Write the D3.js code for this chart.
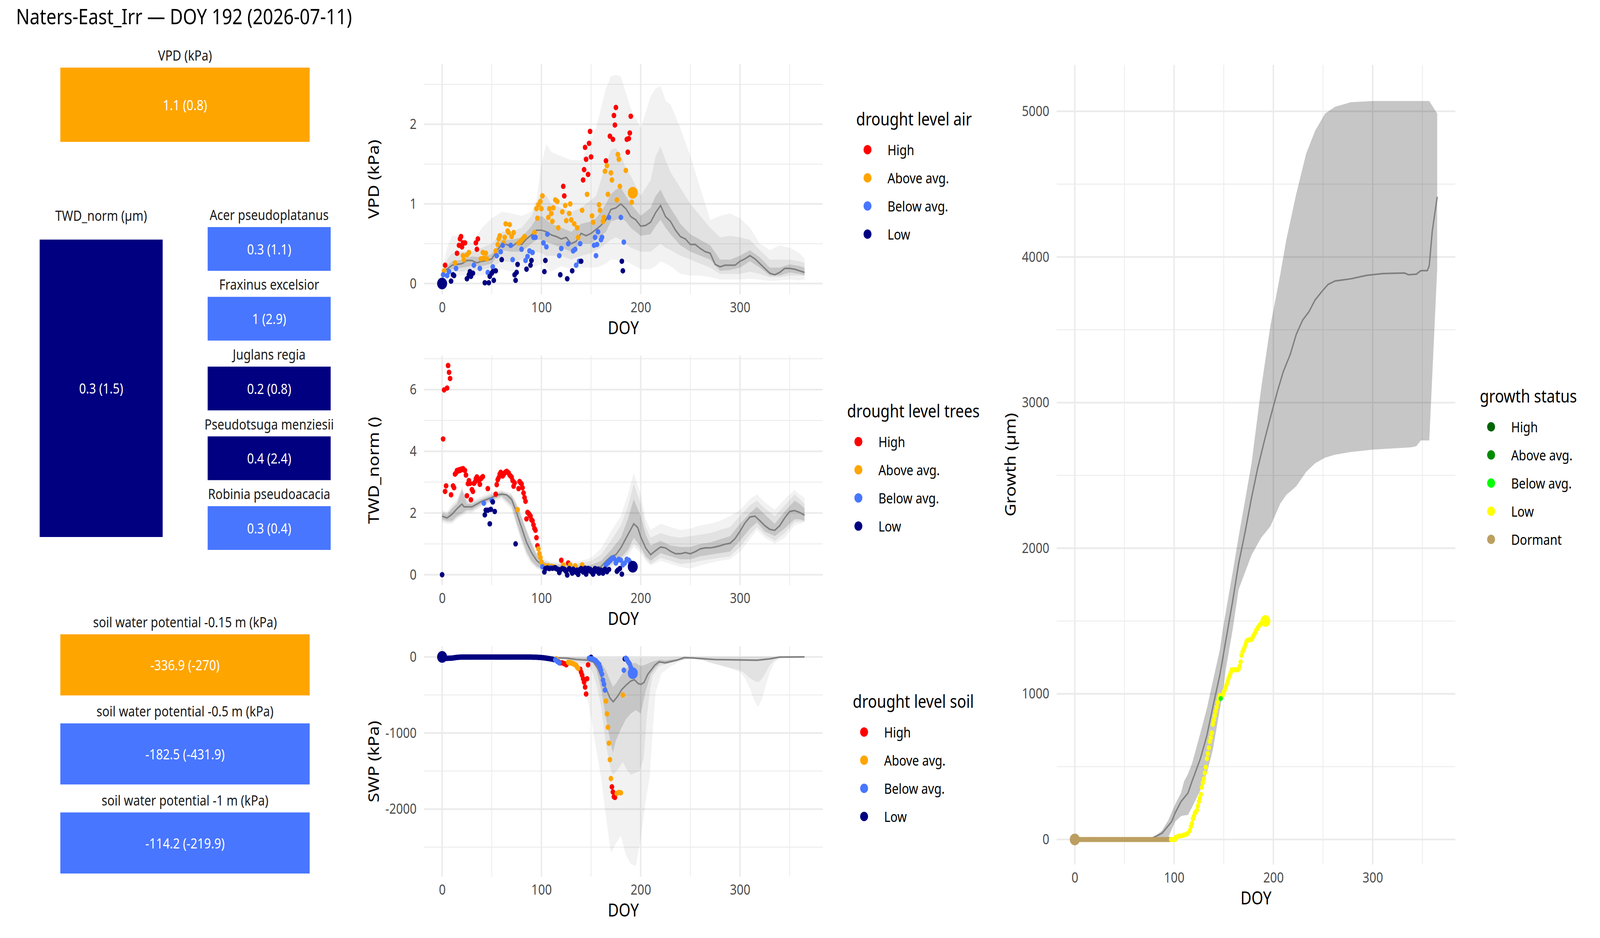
<!DOCTYPE html>
<html lang="en">
<head>
<meta charset="UTF-8">
<title>Naters-East_Irr - DOY 192</title>
<script src="https://d3js.org/d3.v7.min.js"></script>
<style>
html, body { margin: 0; padding: 0; background: white; overflow: hidden; }
#chart svg { display: block; width: 100vw; height: 100vh; }
svg text { font-family: 'Noto Sans', 'Open Sans', sans-serif; }
.tick text { font-size: 36px; fill: #4D4D4D; }
.axis-title { font-size: 45px; fill: black; }
.legend-title { font-size: 45px; fill: black; }
.legend-text { font-size: 36px; fill: black; }
.tile-label { font-size: 36px; fill: #1A1A1A; }
.tile-value { font-size: 36px; fill: white; }
.main-title { font-size: 54px; fill: black; }
</style>
</head>
<body>
<div id="chart"></div>
<script>

// --------------------------------------
// Data
// --------------------------------------

const levels = ["High", "Above avg.", "Below avg.", "Low"];
const levelColors = ["#FF0000", "#FFA500", "#4876FF", "#000080"];
const growthLevels = ["High", "Above avg.", "Below avg.", "Low", "Dormant"];
const growthColors = ["#006400", "#008B00", "#00FF00", "#FFFF00", "#BC9F60"];

const doyTicks = [0, 100, 200, 300];
const doyMinor = [50, 150, 250, 350];

// left tiles
const vpdTile = ["VPD (kPa)", "1.1 (0.8)", "Above avg."];
const twdTile = ["TWD_norm (µm)", "0.3 (1.5)", "Low"];
const species = ["Acer pseudoplatanus", "Fraxinus excelsior", "Juglans regia", "Pseudotsuga menziesii", "Robinia pseudoacacia"];
const speciesValues = ["0.3 (1.1)", "1 (2.9)", "0.2 (0.8)", "0.4 (2.4)", "0.3 (0.4)"];
const speciesLevels = ["Below avg.", "Below avg.", "Low", "Low", "Below avg."];
const soilDepths = ["soil water potential -0.15 m (kPa)", "soil water potential -0.5 m (kPa)", "soil water potential -1 m (kPa)"];
const soilValues = ["-336.9 (-270)", "-182.5 (-431.9)", "-114.2 (-219.9)"];
const soilLevels = ["Above avg.", "Below avg.", "Below avg."];

// VPD climatology [doy, value] and ribbons [doy, lo, hi]
const vpdMedian = [[0,0.14],[5,0.18],[10,0.23],[15,0.24],[20,0.25],[25,0.29],[30,0.29],[35,0.26],[40,0.28],[45,0.29],[50,0.31],[55,0.41],[60,0.49],[65,0.49],[70,0.46],[75,0.51],[80,0.49],[85,0.56],[90,0.61],[95,0.67],[100,0.67],[105,0.65],[110,0.61],[115,0.59],[120,0.56],[125,0.58],[130,0.50],[135,0.53],[140,0.63],[145,0.60],[150,0.63],[155,0.68],[160,0.73],[165,0.80],[170,0.93],[175,0.95],[180,1.00],[185,0.94],[190,0.84],[195,0.80],[200,0.72],[205,0.73],[210,0.77],[215,0.89],[220,0.98],[225,0.84],[230,0.78],[235,0.67],[240,0.59],[245,0.56],[250,0.49],[255,0.49],[260,0.44],[265,0.40],[270,0.38],[275,0.24],[280,0.21],[285,0.23],[290,0.23],[295,0.23],[300,0.28],[305,0.31],[310,0.35],[315,0.31],[320,0.25],[325,0.19],[330,0.13],[335,0.11],[340,0.14],[345,0.19],[350,0.19],[355,0.18],[360,0.16],[365,0.14]];
const vpdOuter = [[0,0.05,0.15],[5,0.05,0.45],[10,0.1,0.6],[20,0.1,0.6],[30,0.1,0.5],[40,0.1,0.7],[50,0.12,0.82],[60,0.18,0.9],[70,0.15,0.88],[80,0.2,0.85],[90,0.2,0.9],[95,0.22,1.05],[100,0.25,1.5],[105,0.2,1.75],[110,0.15,1.65],[120,0.22,1.6],[130,0.18,1.55],[140,0.2,1.55],[150,0.2,1.8],[155,0.2,1.95],[160,0.22,2.2],[165,0.25,2.45],[170,0.3,2.6],[175,0.3,2.62],[180,0.3,2.6],[185,0.28,2.4],[190,0.25,2.2],[200,0.18,1.95],[210,0.18,2.35],[215,0.22,2.45],[220,0.28,2.48],[225,0.25,2.3],[230,0.22,2.25],[240,0.12,1.95],[250,0.1,1.6],[260,0.1,1.2],[270,0.08,0.8],[280,0.05,0.85],[290,0.05,0.88],[300,0.05,0.82],[310,0.06,0.7],[320,0.05,0.5],[330,0.03,0.42],[340,0.04,0.48],[350,0.05,0.45],[360,0.04,0.38],[365,0.05,0.31]];
const vpdMid = [[0,0.08,0.12],[5,0.1,0.3],[10,0.15,0.38],[20,0.15,0.4],[30,0.17,0.4],[40,0.17,0.45],[50,0.2,0.5],[60,0.28,0.65],[70,0.27,0.65],[80,0.3,0.7],[90,0.35,0.85],[95,0.4,1.0],[100,0.38,1.15],[105,0.35,1.1],[110,0.35,1.0],[120,0.35,0.95],[130,0.3,0.9],[140,0.35,0.95],[150,0.38,1.05],[155,0.42,1.1],[160,0.45,1.3],[165,0.5,1.5],[170,0.55,1.68],[175,0.58,1.7],[180,0.55,1.62],[185,0.5,1.45],[190,0.45,1.35],[200,0.4,1.1],[210,0.4,1.3],[215,0.45,1.6],[220,0.5,1.72],[225,0.45,1.55],[230,0.42,1.4],[240,0.35,1.2],[250,0.3,1.0],[260,0.25,0.85],[270,0.2,0.7],[280,0.12,0.58],[290,0.12,0.6],[300,0.12,0.58],[310,0.15,0.55],[320,0.12,0.42],[330,0.08,0.3],[340,0.08,0.3],[350,0.1,0.3],[360,0.1,0.28],[365,0.1,0.26]];
const vpdInner = [[0,0.12,0.16],[5,0.15,0.22],[10,0.18,0.28],[20,0.2,0.3],[30,0.22,0.34],[40,0.22,0.33],[50,0.25,0.37],[60,0.42,0.55],[70,0.4,0.55],[80,0.4,0.58],[90,0.5,0.72],[95,0.55,0.82],[100,0.55,0.85],[105,0.52,0.8],[110,0.5,0.75],[120,0.45,0.7],[130,0.4,0.65],[140,0.5,0.75],[150,0.5,0.78],[155,0.55,0.82],[160,0.6,0.9],[165,0.65,1.0],[170,0.78,1.12],[175,0.8,1.18],[180,0.82,1.2],[185,0.78,1.1],[190,0.7,1.0],[200,0.6,0.85],[210,0.62,0.95],[215,0.72,1.1],[220,0.8,1.18],[225,0.7,1.05],[230,0.62,0.95],[240,0.48,0.75],[250,0.4,0.62],[260,0.35,0.55],[270,0.3,0.48],[280,0.16,0.3],[290,0.17,0.3],[300,0.2,0.35],[310,0.28,0.42],[320,0.2,0.33],[330,0.1,0.2],[340,0.1,0.2],[350,0.14,0.24],[360,0.12,0.22],[365,0.1,0.2]];

// VPD daily observations by drought level [doy, kPa]
const vpdHigh = [[3,0.23],[15,0.38],[17,0.48],[18,0.56],[19,0.59],[20,0.46],[21,0.51],[23,0.51],[34,0.51],[35,0.43],[36,0.56],[122,1.22],[123,1.10],[142,1.30],[143,1.43],[144,1.71],[145,1.56],[147,1.37],[148,1.76],[149,1.91],[150,1.59],[165,1.54],[169,1.85],[172,1.81],[173,2.11],[174,1.99],[175,2.21],[186,1.81],[187,1.65],[188,1.82],[189,1.89],[190,2.10]];
const vpdAbove = [[2,0.16],[13,0.26],[21,0.35],[22,0.30],[25,0.36],[27,0.39],[39,0.31],[41,0.39],[42,0.32],[44,0.38],[45,0.31],[54,0.41],[56,0.49],[57,0.56],[58,0.60],[62,0.51],[63,0.58],[64,0.75],[66,0.66],[67,0.64],[68,0.74],[70,0.59],[72,0.64],[77,0.51],[79,0.53],[81,0.56],[83,0.59],[93,0.64],[95,0.94],[96,0.82],[97,0.99],[99,1.03],[100,0.94],[101,1.10],[107,0.83],[108,0.94],[110,0.88],[111,0.78],[112,0.95],[114,1.05],[116,1.03],[117,0.70],[121,0.90],[124,0.98],[125,0.79],[128,0.88],[129,1.00],[130,0.80],[133,0.75],[136,0.70],[137,0.58],[141,0.92],[146,1.12],[151,0.85],[152,0.77],[158,0.99],[159,0.92],[162,0.78],[163,0.83],[164,1.41],[166,1.48],[167,1.12],[170,1.39],[171,1.30],[176,1.05],[177,1.62],[178,1.56],[179,1.22],[185,1.42],[191,1.02]];
const vpdBelow = [[1,0.11],[5,0.10],[7,0.15],[14,0.19],[32,0.23],[38,0.19],[46,0.14],[51,0.21],[55,0.35],[59,0.40],[61,0.48],[69,0.48],[71,0.30],[80,0.43],[84,0.29],[86,0.34],[88,0.41],[91,0.39],[92,0.58],[94,0.58],[102,0.51],[105,0.46],[106,0.62],[118,0.35],[120,0.44],[127,0.50],[132,0.41],[134,0.43],[135,0.23],[138,0.28],[139,0.50],[153,0.48],[154,0.58],[155,0.35],[156,0.49],[157,0.65],[160,0.55],[161,0.58],[168,0.83],[180,0.83],[183,0.52]];
const vpdLow = [[9,0.03],[11,0.11],[12,0.10],[25,0.06],[27,0.11],[28,0.15],[29,0.09],[31,0.13],[43,0.01],[47,0.01],[48,0.09],[50,0.13],[51,0.15],[52,0.04],[54,0.16],[60,0.30],[73,0.11],[74,0.04],[75,0.14],[76,0.24],[85,0.18],[89,0.23],[90,0.29],[103,0.15],[104,0.29],[119,0.11],[126,0.06],[131,0.16],[140,0.28],[181,0.28],[182,0.16]];
const vpdBig = [[0,0,"Low"],[192,1.14,"Above avg."]];

// TWD_norm climatology and observations
const twdMedian = [[0,1.9],[5,1.84],[10,1.96],[15,2.14],[20,2.29],[22,2.2],[25,2.2],[30,2.2],[35,2.29],[40,2.38],[45,2.44],[50,2.5],[55,2.58],[60,2.61],[65,2.59],[70,2.44],[75,2.02],[80,1.53],[85,1.05],[90,0.72],[95,0.47],[100,0.32],[105,0.26],[110,0.25],[120,0.23],[130,0.2],[140,0.19],[150,0.18],[160,0.26],[165,0.44],[170,0.59],[175,0.65],[180,0.87],[185,1.17],[190,1.47],[193,1.65],[197,1.53],[200,1.23],[205,0.87],[210,0.65],[215,0.78],[220,0.9],[225,0.87],[230,0.76],[235,0.68],[240,0.68],[245,0.72],[250,0.68],[255,0.75],[260,0.84],[265,0.87],[270,0.87],[275,0.9],[280,0.94],[285,0.99],[290,1.02],[295,1.17],[300,1.41],[305,1.68],[310,1.87],[315,1.9],[320,1.75],[325,1.59],[330,1.47],[335,1.44],[340,1.59],[345,1.84],[350,2.05],[355,2.08],[360,2.02],[365,1.93]];
const twdOuter = [[0,1.7,2.1],[5,1.65,2.05],[10,1.65,2.3],[15,1.8,2.45],[20,1.9,2.85],[25,2.0,2.45],[30,2.0,2.4],[40,2.2,2.55],[50,2.35,2.68],[60,2.45,2.75],[70,2.1,2.65],[75,1.55,2.35],[80,1.05,1.95],[85,0.6,1.5],[90,0.35,1.1],[95,0.2,0.75],[100,0.12,0.55],[110,0.1,0.42],[120,0.1,0.42],[130,0.08,0.4],[140,0.08,0.45],[150,0.08,0.55],[160,0.1,0.85],[170,0.2,1.4],[180,0.4,1.9],[187,0.6,2.6],[193,0.9,3.3],[200,0.7,2.6],[205,0.45,1.8],[210,0.3,1.45],[220,0.45,1.65],[230,0.35,1.55],[240,0.25,1.45],[250,0.2,1.5],[260,0.3,1.6],[270,0.38,1.65],[280,0.45,1.75],[290,0.5,1.9],[300,0.75,2.1],[310,1.15,2.45],[317,1.45,2.6],[325,1.2,2.35],[335,1.0,2.1],[345,1.2,2.45],[355,1.6,2.75],[360,1.65,2.6],[365,1.7,2.5]];
const twdMid = [[0,1.75,2.05],[5,1.7,2.0],[10,1.7,2.2],[15,1.85,2.38],[20,1.95,2.8],[25,2.05,2.38],[30,2.05,2.35],[40,2.25,2.5],[50,2.38,2.63],[60,2.5,2.72],[70,2.18,2.6],[75,1.62,2.3],[80,1.12,1.9],[85,0.68,1.45],[90,0.4,1.05],[95,0.24,0.7],[100,0.16,0.5],[110,0.14,0.38],[120,0.13,0.37],[130,0.12,0.35],[140,0.11,0.37],[150,0.1,0.45],[160,0.12,0.65],[170,0.28,1.1],[180,0.48,1.6],[187,0.7,2.2],[193,1.0,2.95],[200,0.8,2.3],[205,0.52,1.55],[210,0.35,1.2],[220,0.55,1.35],[230,0.45,1.25],[240,0.35,1.2],[250,0.38,1.25],[260,0.45,1.3],[270,0.5,1.35],[280,0.55,1.45],[290,0.6,1.55],[300,0.9,1.9],[310,1.3,2.25],[317,1.55,2.4],[325,1.3,2.15],[335,1.1,1.9],[345,1.35,2.25],[355,1.7,2.6],[360,1.72,2.45],[365,1.72,2.3]];
const twdInner = [[0,1.8,2.0],[5,1.75,1.95],[10,1.75,2.15],[15,1.9,2.3],[20,2.0,2.75],[25,2.1,2.3],[30,2.1,2.3],[40,2.3,2.45],[50,2.42,2.58],[60,2.55,2.68],[70,2.25,2.55],[75,1.7,2.25],[80,1.2,1.85],[85,0.75,1.4],[90,0.45,1.0],[95,0.28,0.65],[100,0.2,0.45],[110,0.18,0.33],[120,0.17,0.32],[130,0.15,0.3],[140,0.14,0.3],[150,0.13,0.32],[160,0.15,0.45],[170,0.35,0.8],[180,0.55,1.2],[187,0.8,1.8],[193,1.2,2.45],[200,0.9,1.9],[205,0.6,1.3],[210,0.45,0.95],[220,0.7,1.1],[230,0.6,0.95],[240,0.5,0.9],[250,0.5,0.9],[260,0.6,1.0],[270,0.65,1.05],[280,0.7,1.15],[290,0.75,1.25],[300,1.1,1.65],[310,1.5,2.0],[317,1.7,2.2],[325,1.4,1.95],[335,1.25,1.65],[345,1.5,2.05],[355,1.8,2.4],[360,1.8,2.3],[365,1.75,2.15]];

const twdHigh = [[1,4.4],[2,5.99],[5,6.05],[6,6.78],[7,6.56],[8,6.36],[3,2.7],[4,2.88],[9,2.59],[11,2.88],[12,2.82],[13,3.26],[14,3.3],[15,3.38],[16,3.36],[17,3.4],[18,3.38],[19,3.42],[20,3.41],[21,3.44],[22,3.40],[23,3.38],[24,3.23],[25,2.56],[26,2.95],[27,3.05],[28,2.96],[29,2.43],[30,2.76],[31,2.7],[32,2.96],[33,3.0],[34,3.11],[35,3.17],[36,3.1],[37,3.05],[38,2.93],[39,3.11],[40,3.15],[41,3.18],[46,2.79],[54,2.61],[55,2.92],[56,3.08],[57,3.15],[58,3.26],[59,3.32],[60,3.28],[61,3.20],[62,3.25],[63,3.30],[64,3.33],[65,3.35],[66,3.32],[67,3.30],[68,3.23],[69,3.2],[70,3.16],[71,3.05],[72,2.87],[73,2.98],[77,2.79],[78,3.02],[79,2.98],[80,2.94],[81,2.82],[82,2.65],[83,2.5],[84,2.38],[85,1.81],[86,2.02],[87,1.99],[88,1.95],[89,1.90],[90,1.78],[91,1.75],[92,1.62],[93,1.5],[94,1.44],[95,1.20],[96,0.94],[120,0.47],[127,0.38]];
const twdAbove = [[76,2.11],[97,0.84],[98,0.68],[99,0.56],[100,0.41],[102,0.3],[105,0.28],[107,0.29],[110,0.27],[112,0.26],[122,0.32],[129,0.32],[134,0.29],[141,0.32]];
const twdBelow = [[42,2.32],[50,2.41],[101,0.26],[109,0.23],[165,0.32],[167,0.38],[169,0.45],[170,0.50],[172,0.55],[173,0.53],[175,0.38],[176,0.45],[178,0.50],[180,0.47],[182,0.32],[184,0.38],[186,0.50],[188,0.47],[189,0.42]];
const twdLow = [[0,0],[43,1.94],[44,2.09],[46,2.09],[48,1.65],[49,2.12],[51,2.36],[53,2.05],[74,1.0],[103,0.09],[104,0.2],[106,0.22],[108,0.2],[111,0.21],[113,0.22],[114,0.23],[115,0.2],[116,0.18],[117,0.17],[118,0.07],[119,0.15],[121,0.20],[123,0.18],[124,0.14],[125,0.1],[126,-0.01],[128,0.20],[130,0.12],[131,0.05],[132,0.18],[133,0.14],[135,0.08],[136,0.15],[137,0.01],[138,0.12],[139,0.17],[140,0.2],[142,0.09],[143,0.15],[144,0.21],[145,0.02],[146,0.12],[147,0.2],[148,0.13],[149,0.18],[150,0.1],[151,0.08],[152,0.02],[153,0.15],[154,0.20],[155,0.12],[156,0.11],[157,0.18],[158,0.05],[159,0.12],[160,0.15],[161,0.1],[162,0.05],[163,0.12],[164,0.18],[166,0.1],[168,0.17],[176,0.11],[177,0.15],[179,0.20],[181,0.02]];
const twdBig = [[192,0.26,"Low"]];

// soil water potential climatology and observations (kPa)
const swpMedian = [[0,-5],[20,-4],[40,-3],[60,-3],[80,-3],[100,-8],[110,-12],[118,-14],[125.6,-17],[134.6,-34],[146.6,-43],[152.5,-68],[157,-154],[163,-351],[169,-539],[172.3,-590],[176.5,-522],[181,-428],[185.5,-368],[190,-317],[193.7,-300],[197.5,-351],[200.4,-360],[203.4,-334],[207,-231],[211,-163],[214,-111],[218.4,-65],[224.4,-77],[230.4,-60],[236.4,-43],[243.9,-9],[252.8,-14],[260,-22],[275,-34],[317,-43],[330,-25],[339.7,-3],[365,0]];
const swpOuter = [[0,-10,0],[50,-10,0],[100,-15,0],[110,-15,0],[120,-40,0],[125,-70,0],[130,-100,0],[135,-150,0],[140,-280,0],[145,-470,0],[150,-800,0],[155,-1200,0],[160,-1580,0],[165,-2100,0],[170,-2580,0],[175,-2450,0],[180,-2350,0],[185,-2600,0],[190,-2720,0],[195,-2750,0],[200,-2400,0],[205,-1900,0],[209,-1580,0],[212,-985,0],[215,-470,0],[221,-214,0],[230,-128,0],[239,-60,0],[245,-17,0],[250,-15,0],[260,-40,0],[270,-70,0],[280,-110,0],[290,-150,0],[300,-200,0],[305,-280,0],[310,-420,0],[315,-590,0],[318,-660,0],[322,-560,0],[326,-380,0],[330,-200,0],[335,-70,0],[340,-20,0],[350,-8,0],[365,-5,0]];
const swpMid = [[0,-6,0],[50,-6,0],[100,-10,0],[110,-10,0],[120,-25,0],[130,-50,0],[135,-70,0],[140,-85,0],[146.5,-94,-5],[151,-180,-10],[155.5,-368,-12],[160,-640,-15],[165,-1150,-15],[170,-1500,-15],[172,-1550,-15],[176,-1500,-15],[182,-1380,-15],[186,-1480,-15],[190,-1550,-15],[199,-1500,-15],[203,-1330,-15],[206,-815,-15],[209,-470,-15],[212,-250,-12],[218,-128,-10],[230,-77,-5],[242,-17,0],[250,-15,0],[260,-25,0],[270,-80,0],[280,-110,0],[290,-145,0],[300,-175,0],[305,-220,0],[310,-280,0],[315,-320,0],[318,-334,0],[322,-290,0],[326,-200,0],[330,-110,0],[335,-40,0],[340,-15,0],[350,-8,0],[365,-5,0]];
const swpInner = [[0,-4,0],[50,-4,0],[100,-6,0],[110,-8,0],[120,-15,-3],[130,-25,-8],[140,-30,-12],[150,-40,-15],[155,-150,-40],[160,-420,-70],[165,-800,-180],[170,-1150,-330],[172,-1258,-394],[175,-1100,-350],[180,-950,-250],[185,-820,-160],[190,-745,-90],[195,-700,-80],[200,-745,-120],[205,-450,-100],[210,-230,-70],[215,-140,-50],[220,-80,-35],[225,-95,-45],[230,-80,-35],[240,-45,-20],[250,-25,-8],[260,-28,-12],[270,-40,-25],[280,-45,-28],[290,-48,-30],[300,-50,-32],[310,-52,-33],[317,-55,-35],[325,-45,-28],[330,-35,-20],[335,-22,-10],[340,-8,0],[350,-5,0],[365,-4,0]];

const swpHigh = [[117,-63],[119,-78],[121,-78],[123,-89],[125,-104],[139,-162],[140,-201],[141,-240],[142,-287],[143,-332],[144,-397],[145,-488],[146,-287],[147,-104],[171,-1708],[172,-1775],[173,-1838],[174,-1846]];
const swpAbove = [[115,-26],[127,-70],[128,-78],[129,-75],[130,-78],[131,-84],[132,-90],[133,-97],[134,-104],[135,-110],[136,-136],[137,-150],[165,-580],[166,-749],[167,-924],[168,-1133],[169,-1350],[170,-1598],[176,-1794],[178,-1781],[180,-1786],[182,-501]];
const swpBelow = [[114,-37],[116,-60],[118,-78],[148,-18],[151,-26],[152,-30],[153,-37],[154,-45],[155,-52],[156,-70],[157,-85],[158,-97],[159,-136],[160,-175],[161,-227],[162,-305],[163,-358],[164,-436],[183,-175],[185,-18],[186,-31],[187,-57],[188,-75],[189,-97],[190,-136],[191,-175]];
const swpLow = [[1,-18],[2,-20],[3,-20],[4,-19],[5,-19],[6,-18],[7,-18],[8,-17],[9,-16],[10,-15],[11,-14],[12,-12],[13,-10],[14,-8],[15,-6],[16,-5],[17,-4],[18,-4],[19,-3],[20,-3],[21,-3],[22,-3],[23,-3],[24,-3],[25,-3],[26,-3],[27,-3],[28,-3],[29,-3],[30,-3],[31,-3],[32,-2],[33,-2],[34,-2],[35,-2],[36,-2],[37,-2],[38,-2],[39,-2],[40,-2],[41,-2],[42,-2],[43,-2],[44,-2],[45,-2],[46,-2],[47,-2],[48,-2],[49,-2],[50,-2],[51,-2],[52,-3],[53,-3],[54,-3],[55,-3],[56,-3],[57,-3],[58,-3],[59,-3],[60,-3],[61,-3],[62,-3],[63,-3],[64,-3],[65,-3],[66,-3],[67,-3],[68,-3],[69,-2],[70,-2],[71,-2],[72,-2],[73,-2],[74,-2],[75,-2],[76,-2],[77,-2],[78,-2],[79,-2],[80,-2],[81,-2],[82,-2],[83,-3],[84,-3],[85,-3],[86,-3],[87,-3],[88,-3],[89,-3],[90,-3],[91,-4],[92,-4],[93,-4],[94,-4],[95,-4],[96,-5],[97,-6],[98,-7],[99,-8],[100,-9],[101,-10],[102,-12],[103,-13],[104,-15],[105,-17],[106,-19],[107,-21],[108,-23],[109,-25],[110,-28],[111,-30],[112,-33],[113,-36],[149,-18],[150,-5],[184,-26]];
const swpBig = [[0,0,"Low"],[192,-214,"Below avg."]];

// growth (µm)
const growthMedian = [[0,0],[75,0],[88,43],[97.5,122],[101,181],[107,260],[114,319],[118,398],[126.5,555],[133,713],[139,909],[146,1126],[152,1362],[159,1638],[165,1894],[171.5,2110],[178,2346],[184,2543],[191,2740],[197,2898],[204,3075],[210,3213],[217,3331],[223,3468],[229.5,3567],[236,3626],[242,3705],[249,3764],[255,3811],[262,3835],[278,3850],[294,3874],[310,3886],[332,3890],[336,3878],[344,3882],[348.5,3906],[355,3906],[357,3941],[360,4177],[365,4413]];
const growthBand = [[0,0,0],[75,0,0],[80,0,15],[88,5,63],[94,12,130],[101,122,240],[107,161,320],[110,165,398],[114,169,450],[118,220,520],[126.5,339,732],[133,457,900],[139,614,1087],[146,890,1300],[149,1000,1441],[152,1165,1560],[159,1441,1835],[165,1717,2080],[171.5,1835,2330],[178,1953,2583],[187.6,2071,3094],[197,2150,3528],[207,2307,3882],[213,2366,4118],[223,2425,4433],[233,2524,4709],[242,2583,4866],[252,2622,4984],[262,2642,5031],[278,2661,5063],[300,2677,5071],[339,2693,5071],[344,2701,5071],[348.5,2740,5071],[357,2740,5071],[365,3921,4984]];
const growthDormant = [[1,0],[2,0],[3,0],[4,0],[5,0],[6,0],[7,0],[8,0],[9,0],[10,0],[11,0],[12,0],[13,0],[14,0],[15,0],[16,0],[17,0],[18,0],[19,0],[20,0],[21,0],[22,0],[23,0],[24,0],[25,0],[26,0],[27,0],[28,0],[29,0],[30,0],[31,0],[32,0],[33,0],[34,0],[35,0],[36,0],[37,0],[38,0],[39,0],[40,0],[41,0],[42,0],[43,0],[44,0],[45,0],[46,0],[47,0],[48,0],[49,0],[50,0],[51,0],[52,0],[53,0],[54,0],[55,0],[56,0],[57,0],[58,0],[59,0],[60,0],[61,0],[62,0],[63,0],[64,0],[65,0],[66,0],[67,0],[68,0],[69,0],[70,0],[71,0],[72,0],[73,0],[74,0],[75,0],[76,0],[77,0],[78,0],[79,0],[80,0],[81,0],[82,0],[83,0],[84,0],[85,0],[86,0],[87,0],[88,0],[89,0],[90,0],[91,0],[92,0],[93,0],[94,0],[95,0],[96,0]];
const growthLow = [[97,0],[98,0],[99,0],[100,0],[101,0],[102,16],[104,20],[105,24],[107,24],[109,28],[110,31],[112,35],[114,43],[116,63],[117,90],[118,110],[119,142],[120,160],[121,181],[122,190],[123,200],[124,230],[125,260],[126,285],[127,310],[128,358],[129,390],[130,417],[131,457],[132,496],[133,555],[134,590],[135,630],[136,673],[137,700],[138,732],[139,791],[140,820],[141,850],[142,880],[143,909],[144,940],[145,968],[146,990],[148,985],[149,990],[150,1010],[151,1025],[152,1047],[153,1065],[154,1087],[155,1110],[156,1126],[157,1146],[158,1165],[159,1165],[160,1165],[161,1165],[162,1165],[163,1165],[164,1165],[165,1170],[166,1190],[167,1220],[168,1264],[169,1290],[170,1303],[171,1320],[172,1340],[173,1362],[174,1368],[175,1370],[176,1372],[177,1372],[178,1374],[179,1385],[180,1400],[181,1412],[182,1425],[183,1441],[184,1450],[185,1461],[186,1470],[187,1478],[188,1485],[189,1492],[190,1500],[191,1505]];
const growthBelow = [[147,968]];
const growthBig = [[0,0,"Dormant"],[192,1500,"Low"]];

// --------------------------------------
// SVG container: a 4800x2400 drawing space spread over the whole window
// --------------------------------------

const svg = d3.select("#chart").append("svg")
  .attr("viewBox", "0 0 4800 2400")
  .attr("preserveAspectRatio", "none");

const levelColor = d3.scaleOrdinal().domain(levels).range(levelColors);
const growthColor = d3.scaleOrdinal().domain(growthLevels).range(growthColors);

svg.append("text")
  .attr("class", "main-title")
  .attr("x", 48)
  .attr("y", 62)
  .text("Naters-East_Irr — DOY 192 (2026-07-11)");

// --------------------------------------
// Left: tiles
// --------------------------------------

function tiles(labels, values, lvls, x0, x1, y0, y1, pad, labelY) {
  const yb = d3.scaleBand().domain(labels).range([y0, y1]).paddingInner(pad);
  const g = svg.append("g");
  labels.forEach((lab, i) => {
    g.append("rect")
      .attr("x", x0).attr("y", yb(lab))
      .attr("width", x1 - x0).attr("height", yb.bandwidth())
      .attr("fill", levelColor(lvls[i]));
    g.append("text")
      .attr("class", "tile-label")
      .attr("x", (x0 + x1) / 2)
      .attr("y", labelY != null ? labelY : yb(lab) - 32)
      .attr("text-anchor", "middle")
      .attr("dominant-baseline", "central")
      .text(lab);
    g.append("text")
      .attr("class", "tile-value")
      .attr("x", (x0 + x1) / 2)
      .attr("y", yb(lab) + yb.bandwidth() / 2)
      .attr("text-anchor", "middle")
      .attr("dominant-baseline", "central")
      .text(values[i]);
  });
}

tiles([vpdTile[0]], [vpdTile[1]], [vpdTile[2]], 181, 929, 173, 363, 0);
tiles([twdTile[0]], [twdTile[1]], [twdTile[2]], 119, 488, 613, 1374, 0, 551);
tiles(species, speciesValues, speciesLevels, 623, 992, 581, 1407, 0.373);
tiles(soilDepths, soilValues, soilLevels, 181, 929, 1623, 2235, 0.314);

// --------------------------------------
// Time panels
// --------------------------------------

function panel(o) {
  const x = d3.scaleLinear().domain([-18.25, 383.25]).range([o.left, o.right]);
  const y = d3.scaleLinear().domain(o.yDomain).range([o.bottom, o.top]);
  const g = svg.append("g");

  // grid
  g.selectAll(null).data(o.yMinor).join("line")
    .attr("x1", o.left).attr("x2", o.right)
    .attr("y1", d => y(d)).attr("y2", d => y(d))
    .attr("stroke", "#EBEBEB").attr("stroke-width", 2.2);
  g.selectAll(null).data(doyMinor).join("line")
    .attr("y1", o.top).attr("y2", o.bottom)
    .attr("x1", d => x(d)).attr("x2", d => x(d))
    .attr("stroke", "#EBEBEB").attr("stroke-width", 2.2);
  g.selectAll(null).data(o.yTicks).join("line")
    .attr("x1", o.left).attr("x2", o.right)
    .attr("y1", d => y(d)).attr("y2", d => y(d))
    .attr("stroke", "#EBEBEB").attr("stroke-width", 4.4);
  g.selectAll(null).data(doyTicks).join("line")
    .attr("y1", o.top).attr("y2", o.bottom)
    .attr("x1", d => x(d)).attr("x2", d => x(d))
    .attr("stroke", "#EBEBEB").attr("stroke-width", 4.4);

  // ribbons
  const area = d3.area().x(d => x(d[0])).y0(d => y(d[1])).y1(d => y(d[2]));
  o.bands.forEach(b => {
    g.append("path").datum(b.data)
      .attr("d", area)
      .attr("fill", "black")
      .attr("fill-opacity", b.alpha);
  });

  // median
  g.append("path").datum(o.median)
    .attr("d", d3.line().x(d => x(d[0])).y(d => y(d[1])))
    .attr("fill", "none")
    .attr("stroke", "#7F7F7F")
    .attr("stroke-width", 4);

  // points
  o.points.forEach(p => {
    g.selectAll(null).data(p.data).join("circle")
      .attr("cx", d => x(d[0]))
      .attr("cy", d => y(d[1]))
      .attr("r", o.r)
      .attr("fill", p.color);
  });
  g.selectAll(null).data(o.big).join("circle")
    .attr("cx", d => x(d[0]))
    .attr("cy", d => y(d[1]))
    .attr("r", 15)
    .attr("fill", d => o.colorScale(d[2]));

  // axes
  const fmt = d => String(d);
  g.append("g").attr("transform", `translate(0,${o.bottom})`)
    .call(d3.axisBottom(x).tickValues(doyTicks).tickSize(0).tickPadding(20).tickFormat(fmt))
    .attr("font-size", null).attr("font-family", null)
    .call(a => a.select(".domain").remove());
  g.append("g").attr("transform", `translate(${o.left},0)`)
    .call(d3.axisLeft(y).tickValues(o.yTicks).tickSize(0).tickPadding(22).tickFormat(fmt))
    .attr("font-size", null).attr("font-family", null)
    .call(a => a.select(".domain").remove());

  g.append("text")
    .attr("class", "axis-title")
    .attr("x", (o.left + o.right) / 2)
    .attr("y", o.bottom + 84)
    .attr("text-anchor", "middle")
    .attr("dominant-baseline", "central")
    .text("DOY");
  g.append("text")
    .attr("class", "axis-title")
    .attr("transform", `translate(${o.titleX},${(o.top + o.bottom) / 2}) rotate(-90)`)
    .attr("text-anchor", "middle")
    .attr("dominant-baseline", "central")
    .text(o.yTitle);
}

const climBands = (outer, mid, inner) => [
  {data: outer, alpha: 0.05},
  {data: mid, alpha: 0.063},
  {data: inner, alpha: 0.12}
];

panel({
  left: 1272, right: 2468, top: 164, bottom: 753, titleX: 1119,
  yDomain: [-0.135, 2.755], yTicks: [0, 1, 2], yMinor: [0.5, 1.5, 2.5],
  yTitle: "VPD (kPa)",
  bands: climBands(vpdOuter, vpdMid, vpdInner),
  median: vpdMedian,
  points: [
    {data: vpdHigh, color: levelColors[0]},
    {data: vpdAbove, color: levelColors[1]},
    {data: vpdBelow, color: levelColors[2]},
    {data: vpdLow, color: levelColors[3]}
  ],
  big: vpdBig, r: 7, colorScale: levelColor
});

panel({
  left: 1272, right: 2468, top: 910, bottom: 1497, titleX: 1119,
  yDomain: [-0.335, 7.1], yTicks: [0, 2, 4, 6], yMinor: [1, 3, 5, 7],
  yTitle: "TWD_norm ()",
  bands: climBands(twdOuter, twdMid, twdInner),
  median: twdMedian,
  points: [
    {data: twdHigh, color: levelColors[0]},
    {data: twdAbove, color: levelColors[1]},
    {data: twdBelow, color: levelColors[2]},
    {data: twdLow, color: levelColors[3]}
  ],
  big: twdBig, r: 7, colorScale: levelColor
});

panel({
  left: 1272, right: 2468, top: 1654, bottom: 2243, titleX: 1119,
  yDomain: [-2887.5, 137.5], yTicks: [-2000, -1000, 0], yMinor: [-2500, -1500, -500],
  yTitle: "SWP (kPa)",
  bands: climBands(swpOuter, swpMid, swpInner),
  median: swpMedian,
  points: [
    {data: swpLow, color: levelColors[3]},
    {data: swpHigh, color: levelColors[0]},
    {data: swpAbove, color: levelColors[1]},
    {data: swpBelow, color: levelColors[2]}
  ],
  big: swpBig, r: 7, colorScale: levelColor
});

panel({
  left: 3170, right: 4366, top: 166, bottom: 2212, titleX: 3029,
  yDomain: [-172, 5319], yTicks: [0, 1000, 2000, 3000, 4000, 5000], yMinor: [500, 1500, 2500, 3500, 4500],
  yTitle: "Growth (µm)",
  bands: [{data: growthBand, alpha: 0.225}],
  median: growthMedian,
  points: [
    {data: growthDormant, color: growthColors[4]},
    {data: growthLow, color: growthColors[3]},
    {data: growthBelow, color: growthColors[2]}
  ],
  big: growthBig, r: 6.5, colorScale: growthColor
});

// --------------------------------------
// Legends
// --------------------------------------

function legend(cx, titleY, title, lv, cols) {
  const g = svg.append("g");
  g.append("text")
    .attr("class", "legend-title")
    .attr("y", titleY)
    .attr("dominant-baseline", "central")
    .text(title);
  const items = g.selectAll(null).data(lv).join("g")
    .attr("transform", (d, i) => `translate(0,${titleY + 80 + i * 72})`);
  items.append("circle")
    .attr("cx", 34).attr("r", 12)
    .attr("fill", (d, i) => cols[i]);
  items.append("text")
    .attr("class", "legend-text")
    .attr("x", 94)
    .attr("dominant-baseline", "central")
    .text(d => d);
  const w = g.node().getBBox().width;
  g.attr("transform", `translate(${cx - w / 2},0)`);
}

legend(2742, 303, "drought level air", levels, levelColors);
legend(2740, 1050, "drought level trees", levels, levelColors);
legend(2740, 1793, "drought level soil", levels, levelColors);
legend(4585, 1012, "growth status", growthLevels, growthColors);

</script>
</body>
</html>
